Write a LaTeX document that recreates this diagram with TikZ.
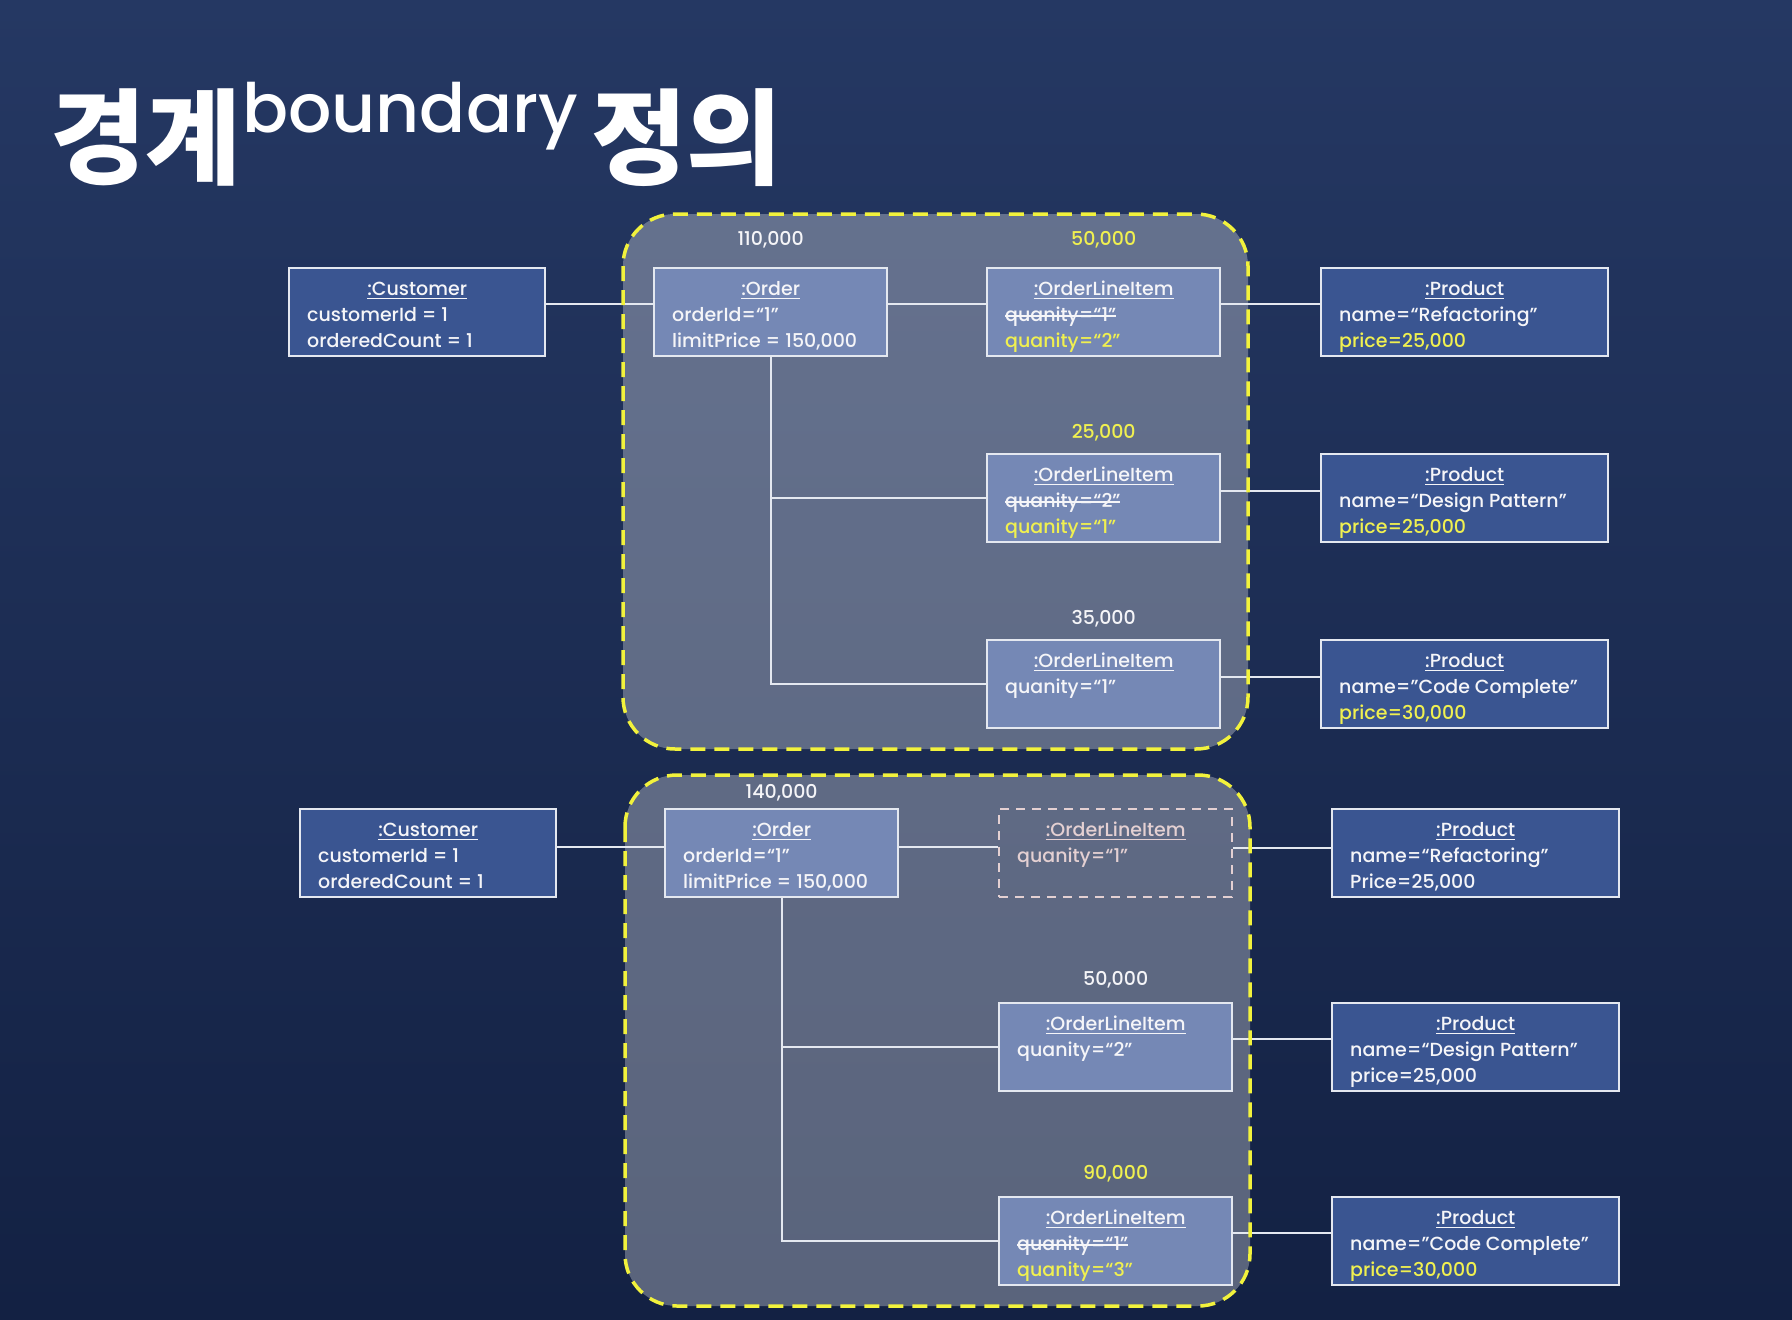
\documentclass[tikz,border=0pt]{standalone}
\usepackage{fontspec}
\setmainfont{Poppins}[UprightFont=* Medium]
\newfontfamily\kr{Noto Sans CJK KR}
\usetikzlibrary{calc}
\definecolor{bgtop}{RGB}{37,56,99}
\definecolor{bgbot}{RGB}{19,33,67}
\definecolor{lbox}{RGB}{117,136,181}
\definecolor{dbox}{RGB}{58,85,145}
\definecolor{bordc}{RGB}{228,232,240}
\definecolor{txt}{RGB}{245,245,248}
\definecolor{ylw}{RGB}{240,240,80}
\definecolor{dashy}{RGB}{242,242,60}
\definecolor{ghosttxt}{RGB}{228,208,210}
\newcommand{\ulbox}[1]{\setbox0\hbox{#1}\rlap{\rule[-3.5pt]{\wd0}{1.4pt}}\box0}
\newcommand{\strk}[1]{\setbox0\hbox{#1}\rlap{\rule[5pt]{\wd0}{1.5pt}}\box0}
\newcommand{\objtext}[4]{%
  \parbox[c][88pt][t]{#1}{\fontsize{19}{26}\selectfont\parindent=0pt
  \rule{0pt}{27.5pt}\hfill\ulbox{#2}\hfill\null\par
  \hspace*{18pt}#3\par
  \hspace*{18pt}#4\par}}
\newcommand{\yl}[1]{\textcolor{ylw}{#1}}
\tikzset{
  objbox/.style={draw=bordc, line width=2.4pt, inner sep=0pt, anchor=north west, text=txt},
  lightobj/.style={objbox, fill=lbox},
  darkobj/.style={objbox, fill=dbox},
  ghostobj/.style={objbox, draw=ghosttxt, dash pattern=on 9pt off 7pt, text=ghosttxt},
  conn/.style={draw=bordc, line width=2.4pt},
  boundfill/.style={fill=white, fill opacity=0.3, rounded corners=52pt},
  boundline/.style={draw=dashy, line width=3.5pt, dash pattern=on 15pt off 9pt, rounded corners=52pt},
  num/.style={font=\fontsize{19}{19}\selectfont, text=txt, inner sep=0pt},
  ynum/.style={num, text=ylw},
  title/.style={anchor=base west, inner sep=0pt, text=white}
}
\begin{document}
\begin{tikzpicture}[x=1pt,y=-1pt]
\shade[top color=bgtop, bottom color=bgbot] (0,0) rectangle (1792,1320);
\useasboundingbox (0,0) rectangle (1792,1320);

% title
\node[title, font=\kr\bfseries\fontsize{104}{104}\selectfont] (t1) at (50,176) {경계};
\node[title, font=\fontsize{68}{68}\selectfont] (t2) at (242,132) {boundary};
\node[title, font=\kr\bfseries\fontsize{104}{104}\selectfont] (t3) at (591,176) {정의};

% boundaries (fill)
\path[boundfill] (623,214) rectangle (1248,749);
\path[boundfill] (625,775) rectangle (1250,1306);

% ---- top group
\node[darkobj] (cust1) at (288,267) {\objtext{256pt}{:Customer}{customerId = 1}{orderedCount = 1}};
\node[lightobj] (ord1) at (653,267) {\objtext{233pt}{:Order}{orderId=“1”}{limitPrice = 150,000}};
\node[lightobj] (oli1a) at (986,267) {\objtext{233pt}{:OrderLineItem}{\strk{quanity=“1”}}{\yl{quanity=“2”}}};
\node[darkobj] (prod1a) at (1320,267) {\objtext{287pt}{:Product}{name=“Refactoring”}{\yl{price=25,000}}};
\node[lightobj] (oli1b) at (986,453) {\objtext{233pt}{:OrderLineItem}{\strk{quanity=“2”}}{\yl{quanity=“1”}}};
\node[darkobj] (prod1b) at (1320,453) {\objtext{287pt}{:Product}{name=“Design Pattern”}{\yl{price=25,000}}};
\node[lightobj] (oli1c) at (986,639) {\objtext{233pt}{:OrderLineItem}{quanity=“1”}{}};
\node[darkobj] (prod1c) at (1320,639) {\objtext{287pt}{:Product}{name=”Code Complete”}{\yl{price=30,000}}};

\node[num] (n1) at ([yshift=27pt]ord1.north) {110,000};
\node[ynum] (n2) at ([yshift=27pt]oli1a.north) {50,000};
\node[ynum] (n3) at ([yshift=20pt]oli1b.north) {25,000};
\node[num] (n4) at ([yshift=20.5pt]oli1c.north) {35,000};

\draw[conn] ([yshift=8pt]cust1.east) -- ([yshift=8pt]ord1.west);
\draw[conn] ([yshift=8pt]ord1.east) -- ([yshift=8pt]oli1a.west);
\draw[conn] ([yshift=8pt]oli1a.east) -- ([yshift=8pt]prod1a.west);
\draw[conn] (ord1.south) |- (oli1b.west);
\draw[conn] (ord1.south) |- (oli1c.west);
\draw[conn] ([yshift=7pt]oli1b.east) -- ([yshift=7pt]prod1b.west);
\draw[conn] ([yshift=7pt]oli1c.east) -- ([yshift=7pt]prod1c.west);

% ---- bottom group
\node[darkobj] (cust2) at (299,808) {\objtext{256pt}{:Customer}{customerId = 1}{orderedCount = 1}};
\node[lightobj] (ord2) at (664,808) {\objtext{233pt}{:Order}{orderId=“1”}{limitPrice = 150,000}};
\node[ghostobj] (oli2a) at (998,808) {\objtext{233pt}{:OrderLineItem}{quanity=“1”}{}};
\node[darkobj] (prod2a) at (1331,808) {\objtext{287pt}{:Product}{name=“Refactoring”}{Price=25,000}};
\node[lightobj] (oli2b) at (998,1002) {\objtext{233pt}{:OrderLineItem}{quanity=“2”}{}};
\node[darkobj] (prod2b) at (1331,1002) {\objtext{287pt}{:Product}{name=“Design Pattern”}{price=25,000}};
\node[lightobj] (oli2c) at (998,1196) {\objtext{233pt}{:OrderLineItem}{\strk{quanity=“1”}}{\yl{quanity=“3”}}};
\node[darkobj] (prod2c) at (1331,1196) {\objtext{287pt}{:Product}{name=”Code Complete”}{\yl{price=30,000}}};

\node[num] (n5) at ([yshift=15pt]ord2.north) {140,000};
\node[num] (n6) at ([yshift=22.5pt]oli2b.north) {50,000};
\node[ynum] (n7) at ([yshift=22.5pt]oli2c.north) {90,000};

\draw[conn] ([yshift=6pt]cust2.east) -- ([yshift=6pt]ord2.west);
\draw[conn] ([yshift=6pt]ord2.east) -- ([yshift=6pt]oli2a.west);
\draw[conn] ([yshift=5pt]oli2a.east) -- ([yshift=5pt]prod2a.west);
\draw[conn] (ord2.south) |- (oli2b.west);
\draw[conn] (ord2.south) |- (oli2c.west);
\draw[conn] ([yshift=8pt]oli2b.east) -- ([yshift=8pt]prod2b.west);
\draw[conn] ([yshift=8pt]oli2c.east) -- ([yshift=8pt]prod2c.west);

% boundaries (outline)
\path[boundline] (623,214) rectangle (1248,749);
\path[boundline] (625,775) rectangle (1250,1306);
\end{tikzpicture}
\end{document}
